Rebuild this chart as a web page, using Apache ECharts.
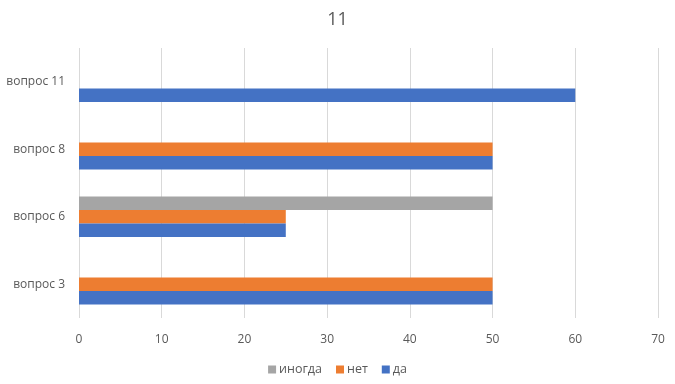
<!DOCTYPE html>
<html><head><meta charset="utf-8">
<script src="https://cdn.jsdelivr.net/npm/echarts@6/dist/echarts.min.js"></script>
<style>html,body{margin:0;padding:0;background:#fff}#c{width:675px;height:384px}</style>
</head><body><div id="c"></div>
<script>
const categories = ['вопрос 3', 'вопрос 6', 'вопрос 8', 'вопрос 11'];
const da = [50, 25, 50, 60];
const net = [50, 25, 50, 0];
const inogda = [0, 50, 0, 0];
const xTicks = {min: 0, max: 70, interval: 10};

const chart = echarts.init(document.getElementById('c'));
const font = '"Open Sans", "Noto Sans", sans-serif';
chart.setOption({
  animation: false,
  title: {text: '11', left: 'center', top: 6, textStyle: {fontFamily: font, fontSize: 18, fontWeight: 'normal', color: '#595959'}},
  legend: {data: ['иногда', 'нет', 'да'], bottom: 3, left: 'center', itemWidth: 8, itemHeight: 8, itemGap: 14, icon: 'rect',
    textStyle: {fontFamily: font, fontSize: 12.5, color: '#595959', padding: [0, 0, 0, -2]}},
  grid: {left: 79, right: 17, top: 48, bottom: 66, containLabel: false},
  xAxis: {type: 'value', min: xTicks.min, max: xTicks.max, interval: xTicks.interval,
    axisLine: {show: false}, axisTick: {show: false},
    axisLabel: {fontFamily: font, fontSize: 12, color: '#595959', margin: 16},
    splitLine: {lineStyle: {color: '#d9d9d9', width: 1}}},
  yAxis: {type: 'category', data: categories,
    axisLine: {show: false}, axisTick: {show: false},
    axisLabel: {fontFamily: font, fontSize: 12, color: '#595959', margin: 14}},
  series: [
    {name: 'иногда', type: 'bar', data: inogda, itemStyle: {color: '#A5A5A5'}, barGap: '0%', barCategoryGap: '40%'},
    {name: 'нет', type: 'bar', data: net, itemStyle: {color: '#ED7D31'}},
    {name: 'да', type: 'bar', data: da, itemStyle: {color: '#4472C4'}}
  ]
});
</script></body></html>
